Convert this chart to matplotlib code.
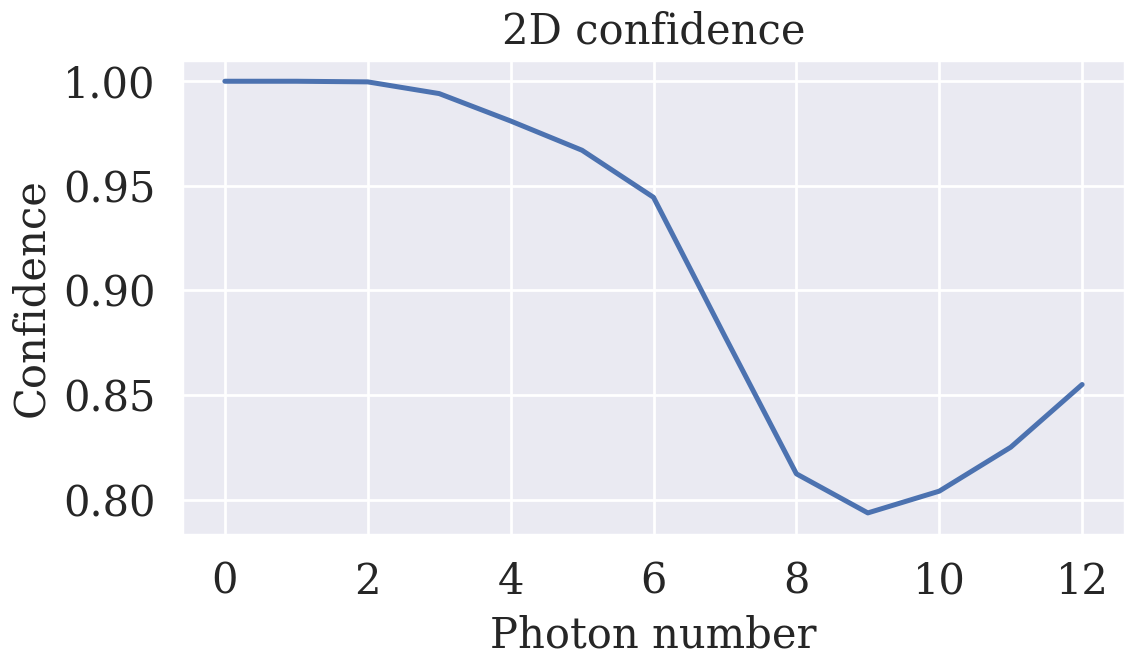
import matplotlib
matplotlib.use("Agg")
import matplotlib.pyplot as plt
import seaborn as sns

photon_number = list(range(13))
confidence = [1.0, 1.0, 0.9997, 0.9941, 0.981, 0.967, 0.9445, 0.878, 0.8123, 0.7936, 0.804, 0.825, 0.855]

sns.set_theme(style="darkgrid")
plt.rcParams['font.family'] = ['DejaVu Serif']
fig, ax = plt.subplots(figsize=(5.675, 3.33), dpi=200)
ax.plot(photon_number, confidence, color="#4c72b0", linewidth=1.8)
ax.set_xticks([0, 2, 4, 6, 8, 10, 12])
ax.set_yticks([0.80, 0.85, 0.90, 0.95, 1.00])
ax.set_yticklabels(["0.80", "0.85", "0.90", "0.95", "1.00"])
ax.tick_params(labelsize=15)
ax.set_xlabel("Photon number", fontsize=15)
ax.set_ylabel("Confidence", fontsize=15)
ax.set_title("2D confidence", fontsize=15)
fig.tight_layout(pad=0.3)
fig.savefig("out.png", dpi=200)
